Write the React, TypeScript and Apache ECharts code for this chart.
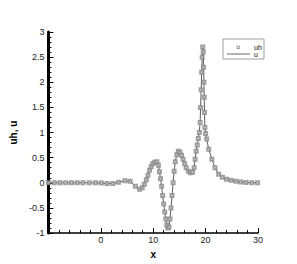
import React, { useEffect, useRef } from "react";
import * as echarts from "echarts";

const xs = [
  -10, -8.9, -7.8, -6.7, -5.6, -4.5, -3.4, -2.2, -1.0, 0.1, 1.2, 2.3, 3.4, 4.6, 5.6, 6.6, 7.4,
  7.9, 8.3, 8.7, 9.0, 9.3, 9.6, 9.9, 10.3, 10.7, 11.0, 11.2, 11.4, 11.6, 11.8, 12.0, 12.2, 12.4,
  12.6, 12.8, 13.0, 13.2, 13.4, 13.6, 13.8, 14.0, 14.2, 14.5, 14.8, 15.1, 15.4, 15.7, 16.0, 16.3,
  16.7, 17.1, 17.5, 17.8, 18.0, 18.2, 18.4, 18.6, 18.8, 18.95, 19.05, 19.15, 19.25, 19.35, 19.45,
  19.55, 19.62, 19.68, 19.74, 19.8, 19.86, 20.0, 20.2, 20.6, 21.2, 21.8, 22.5, 23.2, 24.0, 24.9,
  25.8, 26.7, 27.7, 28.8, 29.9,
];
const uh = [
  0, 0, 0, 0, 0, 0, 0, 0, 0, -0.005, -0.015, -0.015, 0.01, 0.04, 0.03, -0.07, -0.13,
  -0.1, -0.03, 0.06, 0.15, 0.25, 0.32, 0.38, 0.41, 0.42, 0.35, 0.22, 0.08, -0.07, -0.25, -0.42, -0.58, -0.72,
  -0.84, -0.9, -0.88, -0.72, -0.5, -0.25, 0.0, 0.23, 0.42, 0.56, 0.63, 0.61, 0.55, 0.47, 0.38, 0.3,
  0.23, 0.2, 0.21, 0.3, 0.47, 0.63, 0.75, 0.88, 1.0, 1.2, 1.5, 1.85, 2.2, 2.5, 2.7,
  2.6, 2.3, 2.0, 1.7, 1.4, 1.1, 0.98, 0.87, 0.67, 0.47, 0.3, 0.17, 0.11, 0.07, 0.05,
  0.03, 0.015, 0.005, 0, 0,
];
const u = uh;

const xTicks = { min: -10, max: 30, interval: 10 };
const yTicks = { min: -1, max: 3, interval: 0.5 };
const legendNames = ["uh", "u"];

export default function App() {
  const ref = useRef<HTMLDivElement>(null);
  useEffect(() => {
    if (!ref.current) return;
    const chart = echarts.init(ref.current, null, { renderer: "svg" });
    const font = "Liberation Sans, Arial, sans-serif";
    const axisCommon = {
      axisTick: { show: true, inside: true, length: 5, lineStyle: { color: "#000", width: 1 } },
      minorTick: { show: true, splitNumber: 5, length: 3, lineStyle: { color: "#000", width: 1 } },
      splitLine: { show: false },
    };
    chart.setOption({
      animation: false,
      grid: { left: 40, right: 39, top: 32, bottom: 30, containLabel: false },
      xAxis: {
        type: "value",
        min: xTicks.min,
        max: xTicks.max,
        interval: xTicks.interval,
        name: "x",
        nameLocation: "middle",
        nameGap: 10,
        nameTextStyle: { fontFamily: font, fontSize: 10, fontWeight: "bold", color: "#000" },
        axisLine: { show: true, onZero: false, lineStyle: { color: "#000", width: 1.5 } },
        ...axisCommon,
        axisLabel: {
          fontFamily: font,
          fontSize: 9,
          color: "#222",
          margin: 2,
          formatter: (v: number) => (v === -10 ? "" : String(v)),
        },
      },
      yAxis: {
        type: "value",
        min: yTicks.min,
        max: yTicks.max,
        interval: yTicks.interval,
        name: "uh, u",
        nameLocation: "middle",
        nameGap: 17,
        nameTextStyle: { fontFamily: font, fontSize: 10, fontWeight: "bold", color: "#000" },
        axisLine: { show: true, onZero: true, onZeroAxisIndex: 5, lineStyle: { color: "#000", width: 3 } },
        ...axisCommon,
        axisLabel: { fontFamily: font, fontSize: 9, color: "#222", margin: 4 },
      },
      series: [
        {
          name: legendNames[1],
          type: "line",
          data: xs.map((x, i) => [x, u[i]]),
          showSymbol: false,
          symbol: "none",
          lineStyle: { color: "#333", width: 0.8 },
          z: 2,
        },
        {
          name: legendNames[0],
          type: "scatter",
          data: xs.map((x, i) => [x, uh[i]]),
          symbol: "emptyRect",
          symbolSize: 3,
          itemStyle: { color: "#888", borderWidth: 0.7 },
          z: 3,
        },
      ],
      graphic: [
        {
          type: "rect",
          shape: { x: 223, y: 39, width: 41, height: 20 },
          style: { fill: "#fff", stroke: "#888", lineWidth: 0.8 },
        },
        {
          type: "rect",
          shape: { x: 237, y: 46, width: 2.5, height: 2.5 },
          style: { fill: "#fff", stroke: "#777", lineWidth: 0.7 },
        },
        {
          type: "line",
          shape: { x1: 227, y1: 54, x2: 250, y2: 54 },
          style: { stroke: "#444", lineWidth: 0.8 },
        },
        {
          type: "text",
          x: 254,
          y: 47,
          style: { text: legendNames[0], fontFamily: font, fontSize: 7, fill: "#000", verticalAlign: "middle" },
        },
        {
          type: "text",
          x: 254,
          y: 54,
          style: { text: legendNames[1], fontFamily: font, fontSize: 7, fill: "#000", verticalAlign: "middle" },
        },
      ],
    });
    return () => chart.dispose();
  }, []);
  return <div ref={ref} style={{ position: "fixed", left: 0, top: 0, width: 297, height: 264, background: "#fff" }} />;
}
